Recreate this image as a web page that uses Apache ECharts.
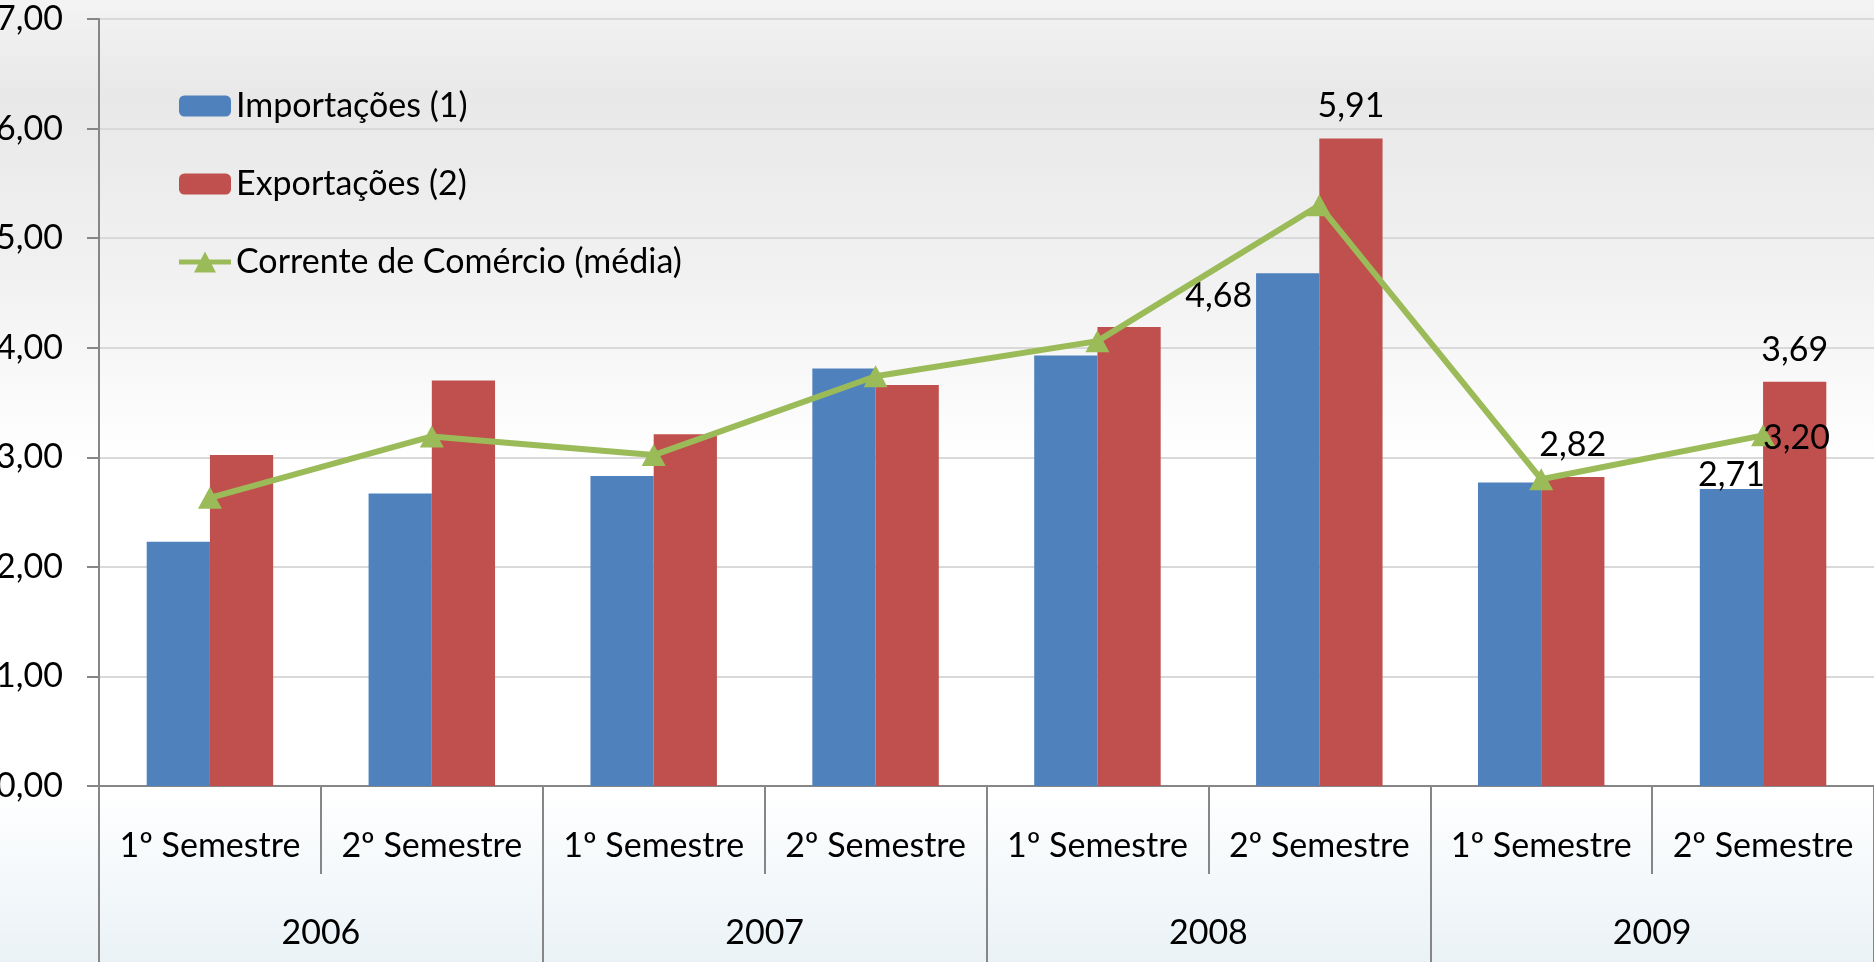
<!DOCTYPE html>
<html>
<head>
<meta charset="utf-8">
<script src="https://cdn.jsdelivr.net/npm/echarts@6/dist/echarts.min.js"></script>
<style>
    html, body { margin: 0; padding: 0; }
    #chart { width: 1874px; height: 962px; }
</style>
</head>
<body>
<div id="chart"></div>
<script>
let semesters = ["1º Semestre", "2º Semestre", "1º Semestre", "2º Semestre",
    "1º Semestre", "2º Semestre", "1º Semestre", "2º Semestre"];
let years = ["2006", "2007", "2008", "2009"];
let importacoes = [2.23, 2.67, 2.83, 3.81, 3.93, 4.68, 2.77, 2.71];
let exportacoes = [3.02, 3.70, 3.21, 3.66, 4.19, 5.91, 2.82, 3.69];
let corrente = [2.63, 3.19, 3.02, 3.74, 4.06, 5.30, 2.80, 3.20];

const FONT = "Lato";
const FS = 34;
const AXIS = "#868686";
const GREEN = "#9bbb59";
// thick line with a triangle, like the Excel legend key
const LINE_ICON = "path://M0,8 L21.8,8 L26,0 L30.2,8 L52,8 L52,13 L32.8,13 L37,21 L15,21 L19.2,13 L0,13 Z";

function fmt(v) {
    return v.toFixed(2).replace(".", ",");
}

// only a few points carry a value label in the original
function withLabels(values, labels) {
    return values.map(function (v, i) {
        if (!labels[i]) return v;
        return {
            value: v,
            label: Object.assign({
                show: true,
                position: "top",
                distance: 15,
                color: "#000",
                fontFamily: FONT,
                fontSize: FS,
                formatter: function (p) { return fmt(p.value); }
            }, labels[i])
        };
    });
}

let chart = echarts.init(document.getElementById("chart"));
let option = {
    backgroundColor: {
        type: "linear", x: 0, y: 0, x2: 0, y2: 1,
        colorStops: [
            { offset: 0, color: "#f3f3f3" },
            { offset: 0.1, color: "#e8e8e8" },
            { offset: 0.3, color: "#f2f2f2" },
            { offset: 0.48, color: "#ffffff" },
            { offset: 0.82, color: "#ffffff" },
            { offset: 1, color: "#eaf2f6" }
        ]
    },
    textStyle: {
        fontFamily: FONT,
        fontSize: FS,
        color: "#000"
    },
    legend: {
        orient: "vertical",
        left: 174,
        top: 84,
        itemWidth: 52,
        itemHeight: 21,
        itemGap: 44,
        textStyle: { fontFamily: FONT, fontSize: FS, color: "#000" },
        data: [
            "Importações (1)",
            "Exportações (2)",
            {
                name: "Corrente de Comércio (média)",
                icon: LINE_ICON,
                itemStyle: { color: GREEN }
            }
        ]
    },
    grid: {
        left: 99,
        right: 0,
        top: 19,
        bottom: 176,
        outerBoundsMode: "none"
    },
    xAxis: [
        {
            type: "category",
            position: "bottom",
            data: semesters,
            axisLine: { show: true, lineStyle: { color: AXIS, width: 2 } },
            axisTick: { show: true, length: 88, interval: 0, lineStyle: { color: AXIS, width: 2 } },
            axisLabel: { interval: 0, margin: 43, fontFamily: FONT, fontSize: FS, color: "#000" }
        },
        {
            type: "category",
            position: "bottom",
            data: years,
            axisLine: { show: false },
            axisTick: { show: true, length: 176, interval: 0, lineStyle: { color: AXIS, width: 2 } },
            axisLabel: { interval: 0, margin: 130, fontFamily: FONT, fontSize: FS, color: "#000" }
        }
    ],
    yAxis: {
        type: "value",
        min: 0,
        max: 7,
        interval: 1,
        axisLine: { show: true, lineStyle: { color: AXIS, width: 2 } },
        axisTick: { show: true, length: 12, lineStyle: { color: AXIS, width: 2 } },
        splitLine: { lineStyle: { color: "#d9d9d9", width: 2 } },
        axisLabel: {
            margin: 36,
            fontFamily: FONT,
            fontSize: FS,
            color: "#000",
            formatter: fmt
        }
    },
    series: [
        {
            name: "Importações (1)",
            type: "bar",
            xAxisIndex: 0,
            barGap: "0%",
            barCategoryGap: "43%",
            itemStyle: { color: "#4f81bd" },
            data: withLabels(importacoes, {
                5: { offset: [-69, 55] },
                7: { distance: -3 }
            })
        },
        {
            name: "Exportações (2)",
            type: "bar",
            xAxisIndex: 0,
            barGap: "0%",
            barCategoryGap: "43%",
            itemStyle: { color: "#c0504d" },
            data: withLabels(exportacoes, {
                5: {},
                6: {},
                7: {}
            })
        },
        {
            name: "Corrente de Comércio (média)",
            type: "line",
            xAxisIndex: 0,
            symbol: "triangle",
            symbolSize: [24, 22],
            lineStyle: { color: GREEN, width: 6 },
            itemStyle: { color: GREEN },
            z: 5,
            data: withLabels(corrente, {
                7: { position: "right", distance: 0, offset: [-12, 3] }
            })
        }
    ]
};
chart.setOption(option);
</script>
</body>
</html>
